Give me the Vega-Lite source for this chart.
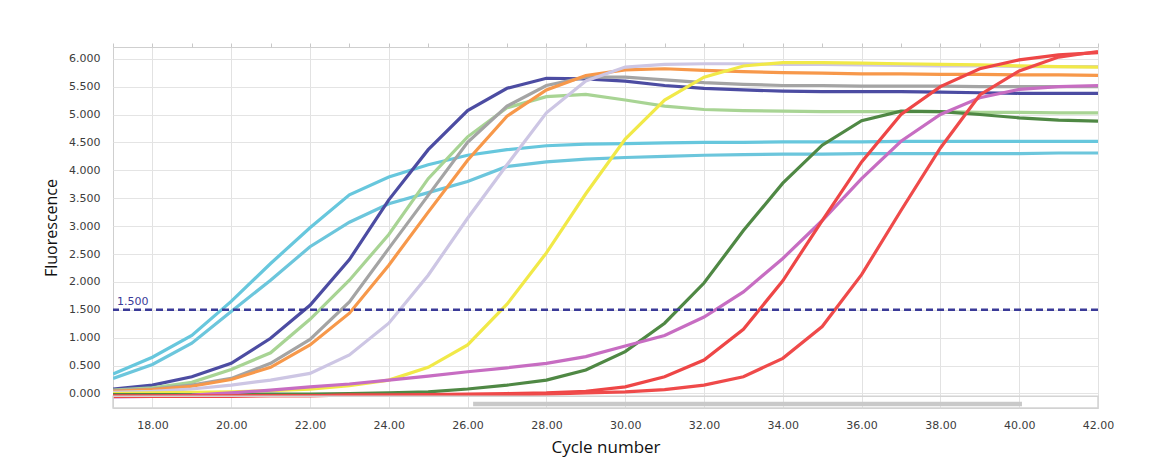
{
  "$schema": "https://vega.github.io/schema/vega-lite/v6.json",
  "width": 985,
  "height": 361,
  "autosize": "none",
  "padding": {"left": 113, "top": 47, "right": 52, "bottom": 62},
  "background": "white",
  "config": {"view": {"stroke": "#cfcfcf", "strokeWidth": 1}, "font": "DejaVu Sans"},
  "datasets": {
    "curves": [
      {"cycle":17,"cyanA":0.35,"cyanB":0.27,"navy":0.08,"lightgreen":0.06,"gray":0.05,"orange":0.04,"lavender":0.02,"yellow":0.0,"darkgreen":-0.02,"magenta":-0.06,"redA":-0.05,"redB":-0.04},
      {"cycle":18,"cyanA":0.65,"cyanB":0.52,"navy":0.15,"lightgreen":0.1,"gray":0.08,"orange":0.07,"lavender":0.04,"yellow":0.01,"darkgreen":-0.02,"magenta":-0.05,"redA":-0.05,"redB":-0.04},
      {"cycle":19,"cyanA":1.04,"cyanB":0.9,"navy":0.3,"lightgreen":0.2,"gray":0.15,"orange":0.13,"lavender":0.08,"yellow":0.02,"darkgreen":-0.02,"magenta":-0.03,"redA":-0.05,"redB":-0.04},
      {"cycle":20,"cyanA":1.65,"cyanB":1.47,"navy":0.54,"lightgreen":0.43,"gray":0.27,"orange":0.25,"lavender":0.15,"yellow":0.03,"darkgreen":-0.02,"magenta":0.01,"redA":-0.05,"redB":-0.04},
      {"cycle":21,"cyanA":2.33,"cyanB":2.03,"navy":0.99,"lightgreen":0.73,"gray":0.54,"orange":0.47,"lavender":0.24,"yellow":0.05,"darkgreen":-0.01,"magenta":0.06,"redA":-0.04,"redB":-0.04},
      {"cycle":22,"cyanA":2.97,"cyanB":2.63,"navy":1.58,"lightgreen":1.33,"gray":0.97,"orange":0.87,"lavender":0.36,"yellow":0.08,"darkgreen":-0.01,"magenta":0.12,"redA":-0.04,"redB":-0.04},
      {"cycle":23,"cyanA":3.56,"cyanB":3.07,"navy":2.4,"lightgreen":2.03,"gray":1.64,"orange":1.44,"lavender":0.69,"yellow":0.14,"darkgreen":0.0,"magenta":0.17,"redA":-0.03,"redB":-0.03},
      {"cycle":24,"cyanA":3.88,"cyanB":3.4,"navy":3.47,"lightgreen":2.85,"gray":2.6,"orange":2.3,"lavender":1.26,"yellow":0.24,"darkgreen":0.01,"magenta":0.24,"redA":-0.03,"redB":-0.03},
      {"cycle":25,"cyanA":4.1,"cyanB":3.6,"navy":4.37,"lightgreen":3.85,"gray":3.55,"orange":3.25,"lavender":2.12,"yellow":0.47,"darkgreen":0.03,"magenta":0.31,"redA":-0.02,"redB":-0.03},
      {"cycle":26,"cyanA":4.27,"cyanB":3.8,"navy":5.07,"lightgreen":4.6,"gray":4.5,"orange":4.18,"lavender":3.14,"yellow":0.87,"darkgreen":0.08,"magenta":0.39,"redA":-0.01,"redB":-0.02},
      {"cycle":27,"cyanA":4.37,"cyanB":4.07,"navy":5.47,"lightgreen":5.12,"gray":5.15,"orange":4.97,"lavender":4.1,"yellow":1.6,"darkgreen":0.15,"magenta":0.46,"redA":0.0,"redB":-0.02},
      {"cycle":28,"cyanA":4.44,"cyanB":4.15,"navy":5.65,"lightgreen":5.32,"gray":5.52,"orange":5.44,"lavender":5.03,"yellow":2.52,"darkgreen":0.24,"magenta":0.54,"redA":0.01,"redB":-0.01},
      {"cycle":29,"cyanA":4.47,"cyanB":4.2,"navy":5.64,"lightgreen":5.36,"gray":5.67,"orange":5.7,"lavender":5.6,"yellow":3.58,"darkgreen":0.42,"magenta":0.66,"redA":0.04,"redB":0.01},
      {"cycle":30,"cyanA":4.48,"cyanB":4.23,"navy":5.6,"lightgreen":5.26,"gray":5.67,"orange":5.8,"lavender":5.85,"yellow":4.56,"darkgreen":0.75,"magenta":0.85,"redA":0.12,"redB":0.03},
      {"cycle":31,"cyanA":4.49,"cyanB":4.25,"navy":5.52,"lightgreen":5.15,"gray":5.62,"orange":5.82,"lavender":5.9,"yellow":5.26,"darkgreen":1.26,"magenta":1.04,"redA":0.3,"redB":0.07},
      {"cycle":32,"cyanA":4.5,"cyanB":4.27,"navy":5.47,"lightgreen":5.09,"gray":5.57,"orange":5.79,"lavender":5.91,"yellow":5.67,"darkgreen":1.98,"magenta":1.37,"redA":0.6,"redB":0.15},
      {"cycle":33,"cyanA":4.5,"cyanB":4.28,"navy":5.44,"lightgreen":5.07,"gray":5.54,"orange":5.77,"lavender":5.91,"yellow":5.87,"darkgreen":2.92,"magenta":1.82,"redA":1.15,"redB":0.3},
      {"cycle":34,"cyanA":4.51,"cyanB":4.29,"navy":5.42,"lightgreen":5.06,"gray":5.52,"orange":5.75,"lavender":5.9,"yellow":5.93,"darkgreen":3.77,"magenta":2.42,"redA":2.02,"redB":0.63},
      {"cycle":35,"cyanA":4.51,"cyanB":4.29,"navy":5.41,"lightgreen":5.05,"gray":5.52,"orange":5.74,"lavender":5.9,"yellow":5.93,"darkgreen":4.45,"magenta":3.1,"redA":3.1,"redB":1.2},
      {"cycle":36,"cyanA":4.51,"cyanB":4.3,"navy":5.41,"lightgreen":5.05,"gray":5.51,"orange":5.73,"lavender":5.89,"yellow":5.92,"darkgreen":4.89,"magenta":3.85,"redA":4.15,"redB":2.13},
      {"cycle":37,"cyanA":4.52,"cyanB":4.3,"navy":5.41,"lightgreen":5.05,"gray":5.51,"orange":5.73,"lavender":5.88,"yellow":5.91,"darkgreen":5.06,"magenta":4.52,"redA":5.0,"redB":3.28},
      {"cycle":38,"cyanA":4.52,"cyanB":4.3,"navy":5.4,"lightgreen":5.05,"gray":5.51,"orange":5.72,"lavender":5.87,"yellow":5.9,"darkgreen":5.05,"magenta":5.0,"redA":5.5,"redB":4.4},
      {"cycle":39,"cyanA":4.52,"cyanB":4.3,"navy":5.39,"lightgreen":5.04,"gray":5.5,"orange":5.72,"lavender":5.87,"yellow":5.89,"darkgreen":5.0,"magenta":5.3,"redA":5.82,"redB":5.35},
      {"cycle":40,"cyanA":4.52,"cyanB":4.3,"navy":5.38,"lightgreen":5.04,"gray":5.5,"orange":5.71,"lavender":5.86,"yellow":5.87,"darkgreen":4.94,"magenta":5.45,"redA":5.98,"redB":5.78},
      {"cycle":41,"cyanA":4.52,"cyanB":4.31,"navy":5.38,"lightgreen":5.03,"gray":5.5,"orange":5.71,"lavender":5.86,"yellow":5.86,"darkgreen":4.9,"magenta":5.5,"redA":6.07,"redB":6.03},
      {"cycle":42,"cyanA":4.52,"cyanB":4.31,"navy":5.38,"lightgreen":5.03,"gray":5.5,"orange":5.7,"lavender":5.86,"yellow":5.85,"darkgreen":4.88,"magenta":5.52,"redA":6.11,"redB":6.13}
    ],
    "threshold": [{"label": "1.500", "cycle": 17, "value": 1.5}],
    "scrollTrack": [{"start": 17, "end": 42, "low": -0.26, "high": -0.05}],
    "scrollThumb": [{"start": 26.14, "end": 40.07, "low": -0.23, "high": -0.15}]
  },
  "resolve": {"axis": {"x": "independent", "y": "independent"}},
  "layer": [
    {
      "data": {"name": "curves"},
      "transform": [{"fold": ["cyanA","cyanB","navy","lightgreen","gray","orange","lavender","yellow","darkgreen","magenta","redA","redB"], "as": ["series","fluor"]}],
      "mark": {"type": "line", "strokeWidth": 3.2, "clip": true},
      "encoding": {
        "x": {
          "field": "cycle", "type": "quantitative",
          "scale": {"domain": [17, 42], "nice": false, "zero": false},
          "axis": {
            "title": "Cycle number",
            "values": [18,20,22,24,26,28,30,32,34,36,38,40,42],
            "format": ".2f",
            "grid": true,
            "gridColor": "#e2e2e2",
            "domain": false,
            "ticks": false,
            "labelPadding": 11,
            "labelFontSize": 11,
            "labelColor": "#3c3c3c",
            "labelFont": "DejaVu Sans",
            "labelFlush": false,
            "labelOverlap": false,
            "titleFont": "Open Sans",
            "titleFontSize": 17,
            "titleFontWeight": "normal",
            "titleColor": "#111111",
            "titlePadding": 9
          }
        },
        "y": {
          "field": "fluor", "type": "quantitative",
          "scale": {"domain": [-0.26, 6.21], "nice": false, "zero": false},
          "axis": {
            "title": "Fluorescence",
            "values": [0,0.5,1,1.5,2,2.5,3,3.5,4,4.5,5,5.5,6],
            "format": ".3f",
            "grid": true,
            "gridColor": "#e4e4e4",
            "ticks": false,
            "domain": false,
            "labelPadding": 13,
            "labelFontSize": 11,
            "labelColor": "#3c3c3c",
            "labelFont": "DejaVu Sans",
            "labelOverlap": false,
            "titleFont": "Open Sans",
            "titleFontSize": 16,
            "titleFontWeight": "normal",
            "titleColor": "#111111",
            "titlePadding": 9
          }
        },
        "color": {
          "field": "series", "type": "nominal", "legend": null,
          "scale": {
            "domain": ["cyanA","cyanB","navy","lightgreen","gray","orange","lavender","yellow","darkgreen","magenta","redA","redB"],
            "range": ["#67c7dd","#6cc6dc","#4c4ca2","#a8d494","#a4a4a4","#f7984a","#cdc6e4","#f1e948","#4f8844","#c76dc2","#ee4646","#ef4a4a"]
          }
        }
      }
    },
    {
      "data": {"name": "scrollTrack"},
      "mark": {"type": "rect", "fill": "white", "fillOpacity": 0, "stroke": "#d4d4d4", "strokeWidth": 1.5},
      "encoding": {
        "x": {
          "field": "start", "type": "quantitative",
          "axis": {
            "title": null,
            "values": [17,18,19,20,21,22,23,24,25,26,27,28,29,30,31,32,33,34,35,36,37,38,39,40,41,42],
            "labels": false,
            "grid": false,
            "domain": false,
            "ticks": true,
            "tickColor": "#c8c8c8",
            "tickSize": 4
          }
        },
        "x2": {"field": "end"},
        "y": {"field": "low", "type": "quantitative", "axis": null},
        "y2": {"field": "high"}
      }
    },
    {
      "data": {"name": "scrollThumb"},
      "mark": {"type": "rect", "fill": "#c9c9c9"},
      "encoding": {
        "x": {"field": "start", "type": "quantitative", "axis": null},
        "x2": {"field": "end"},
        "y": {"field": "low", "type": "quantitative", "axis": null},
        "y2": {"field": "high"}
      }
    },
    {
      "data": {"name": "threshold"},
      "mark": {"type": "rule", "stroke": "#3a3a98", "strokeWidth": 2.5, "strokeDash": [7, 4]},
      "encoding": {"y": {"field": "value", "type": "quantitative", "axis": null}}
    },
    {
      "data": {"name": "threshold"},
      "mark": {"type": "text", "align": "left", "baseline": "bottom", "dx": 4, "dy": -3, "fontSize": 11, "fill": "#3a3a98", "font": "DejaVu Sans"},
      "encoding": {
        "x": {"field": "cycle", "type": "quantitative", "axis": null},
        "y": {"field": "value", "type": "quantitative", "axis": null},
        "text": {"field": "label"}
      }
    }
  ]
}
